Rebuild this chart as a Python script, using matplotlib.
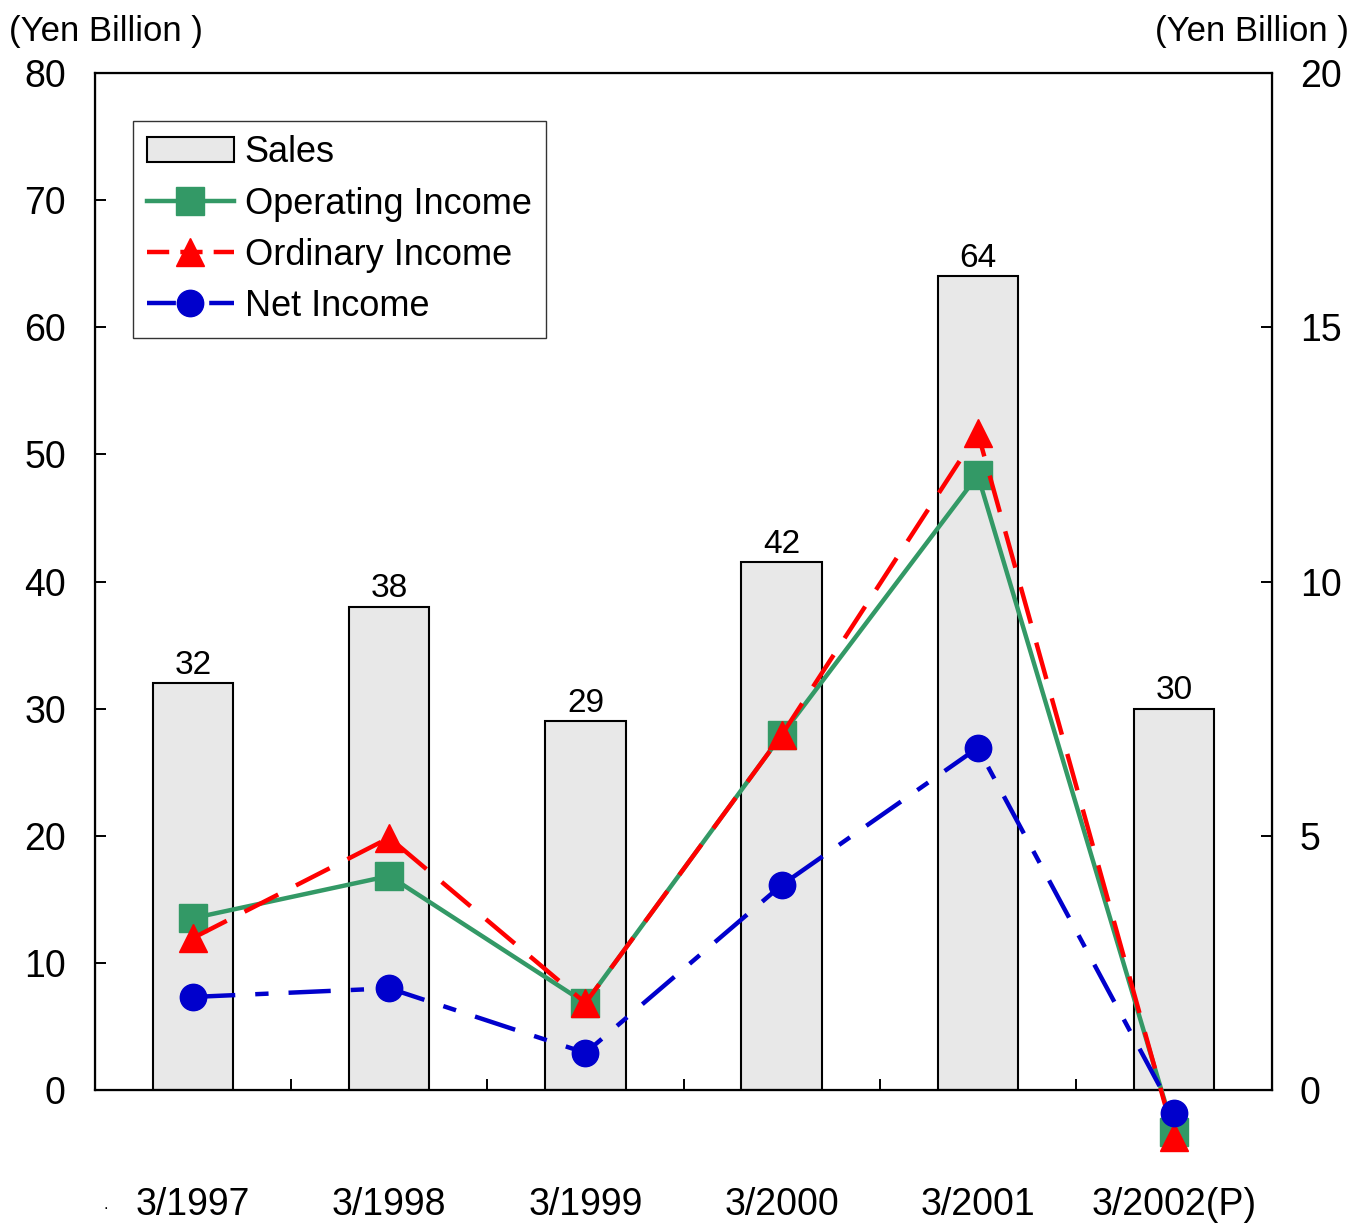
import matplotlib.pyplot as plt
from matplotlib.lines import Line2D
import matplotlib.patches as mpatches

plt.rcParams['font.family'] = ['Liberation Sans', 'DejaVu Sans']

# --- data ---
periods = ['3/1997', '3/1998', '3/1999', '3/2000', '3/2001', '3/2002(P)']
sales = [32, 38, 29, 41.5, 64, 30]
sales_labels = ['32', '38', '29', '42', '64', '30']
operating = [3.38, 4.21, 1.71, 6.98, 12.09, -0.83]
ordinary = [2.99, 4.96, 1.71, 6.98, 12.92, -0.92]
net = [1.83, 2.00, 0.73, 4.03, 6.73, -0.45]

GREEN = '#339966'
RED = '#ff0000'
BLUE = '#0000cc'
BAR = '#e8e8e8'
FS = 27

fig = plt.figure(figsize=(13.53, 12.25), dpi=100)
ax = fig.add_axes([0.0702, 0.1102, 0.8700, 0.8302])
ax2 = ax.twinx()

x = list(range(len(periods)))

# bars on the left axis
ax.bar(x, sales, width=0.41, color=BAR, edgecolor='black', linewidth=1.5, zorder=2)
for xi, v, lab in zip(x, sales, sales_labels):
    ax.text(xi, v + 0.2, lab, ha='center', va='bottom', fontsize=24)

ax.set_xlim(-0.5, len(periods) - 0.5)
ax.set_ylim(0, 80)
ax.set_yticks(range(0, 81, 10))
ax.set_xticks(x)
ax.set_xticklabels(periods)
ax.set_xticks([i + 0.5 for i in range(len(periods) - 1)], minor=True)
ax.tick_params(axis='x', which='major', length=0, pad=70, labelsize=FS)
ax.tick_params(axis='x', which='minor', length=8, direction='in', width=1.4)
ax.tick_params(axis='y', labelsize=FS, length=8, width=1.4, direction='in', pad=21)
for s in ax.spines.values():
    s.set_linewidth(1.6)

# income lines on the right axis
ax2.set_ylim(0, 20)
ax2.set_yticks(range(0, 21, 5))
ax2.tick_params(axis='y', labelsize=FS, length=8, width=1.4, direction='in', pad=20)

ax2.plot(x, operating, color=GREEN, lw=3.2, marker='s', markersize=20,
         clip_on=False, zorder=3)
ax2.plot(x, ordinary, color=RED, lw=3.2, marker='^', markersize=20,
         dashes=(8.5, 4.5), clip_on=False, zorder=4)
ax2.plot(x, net, color=BLUE, lw=3.2, marker='o', markersize=19,
         dashes=(9.5, 4.5, 3, 4.5), clip_on=False, zorder=5)

fig.text(0.007, 0.974, '(Yen Billion )', fontsize=25, ha='left', va='center')
fig.text(0.997, 0.974, '(Yen Billion )', fontsize=25, ha='right', va='center')
fig.text(0.078, 0.011, '.', fontsize=12, ha='center', va='bottom')

handles = [
    mpatches.Patch(facecolor=BAR, edgecolor='black', linewidth=1.5),
    Line2D([], [], color=GREEN, lw=3.2, marker='s', markersize=20),
    Line2D([], [], color=RED, lw=3.2, marker='^', markersize=20, dashes=(5, 2.5)),
    Line2D([], [], color=BLUE, lw=3.2, marker='o', markersize=19, dashes=(6.5, 3, 1.5, 3)),
]
leg = ax2.legend(handles, ['Sales', 'Operating Income', 'Ordinary Income', 'Net Income'],
                 loc='upper left', bbox_to_anchor=(0.032, 0.953), fontsize=FS - 1,
                 frameon=True, fancybox=False, edgecolor='#333333', framealpha=1,
                 handlelength=2.4, handletextpad=0.3, labelspacing=0.45,
                 borderpad=0.4, borderaxespad=0)
leg.get_frame().set_linewidth(1.0)

fig.savefig('out.png', dpi=100)
